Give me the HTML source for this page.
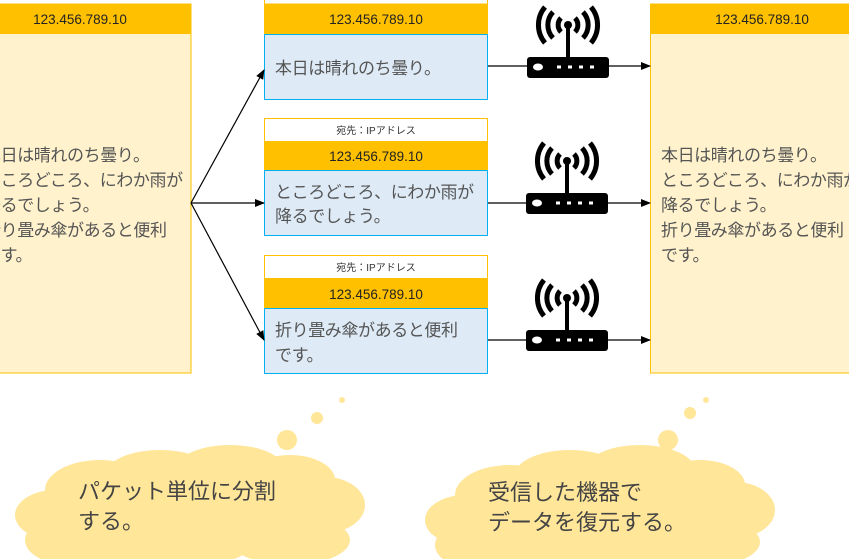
<!DOCTYPE html>
<html><head><meta charset="utf-8"><style>
body{margin:0;background:#fff;}
svg{display:block;}
text{font-family:"Liberation Sans","Noto Sans CJK JP",sans-serif;}
.ip{font-size:13.5px;fill:#222;text-anchor:middle;}
.b{font-size:17px;fill:#555;letter-spacing:-0.4px;}
.lb{font-size:10px;fill:#333;text-anchor:middle;}
.c{font-size:22px;fill:#444;}
</style></head><body>
<svg width="849" height="559" viewBox="0 0 849 559" xmlns="http://www.w3.org/2000/svg">
<defs>
<marker id="a" markerWidth="10" markerHeight="8" refX="9" refY="4" orient="auto" markerUnits="userSpaceOnUse">
<path d="M0,0 L10,4 L0,8 z" fill="#000"/></marker>
<g id="r">
<rect x="-41" y="-10" width="82" height="21" rx="3" fill="#000"/>
<ellipse cx="-30" cy="0" rx="5" ry="3.5" fill="#fff"/>
<g fill="#fff"><rect x="-11" y="-1.5" width="4" height="3"/><rect x="0" y="-1.5" width="4" height="3"/><rect x="11" y="-1.5" width="4" height="3"/><rect x="22" y="-1.5" width="4" height="3"/></g>
<rect x="-2" y="-42" width="4" height="33" fill="#000"/>
<circle cx="0" cy="-42" r="4" fill="#000"/>
<g fill="none" stroke="#000" stroke-width="5">
<path d="M-7,-49 A10,10 0 0 0 -7,-35"/><path d="M7,-49 A10,10 0 0 1 7,-35"/>
<path d="M-15,-55 A19,19 0 0 0 -15,-29"/><path d="M15,-55 A19,19 0 0 1 15,-29"/>
<path d="M-23,-60 A28,28 0 0 0 -23,-24"/><path d="M23,-60 A28,28 0 0 1 23,-24"/>
</g>
</g>
</defs>
<rect x="-5" y="4" width="196" height="369" fill="#FFF2CC" stroke="#FFC000" stroke-width="1"/>
<rect x="-5" y="4" width="196" height="30" fill="#FFC000"/>
<text class="ip" x="80" y="24">123.456.789.10</text>
<text class="b" x="-16" y="161">本日は晴れのち曇り。</text>
<text class="b" x="-16" y="186">ところどころ、にわか雨が</text>
<text class="b" x="-16" y="211">降るでしょう。</text>
<text class="b" x="-16" y="236">折り畳み傘があると便利</text>
<text class="b" x="-16" y="261">です。</text>
<rect x="650.5" y="4" width="210" height="369" fill="#FFF2CC" stroke="#FFC000" stroke-width="1"/>
<rect x="650.5" y="4" width="210" height="30" fill="#FFC000"/>
<text class="ip" x="762" y="24">123.456.789.10</text>
<text class="b" x="661" y="161">本日は晴れのち曇り。</text>
<text class="b" x="661" y="186">ところどころ、にわか雨が</text>
<text class="b" x="661" y="211">降るでしょう。</text>
<text class="b" x="661" y="236">折り畳み傘があると便利</text>
<text class="b" x="661" y="261">です。</text>
<rect x="264.5" y="-10" width="223" height="14" fill="#fff" stroke="#FFC000"/>
<rect x="264" y="4" width="224" height="30" fill="#FFC000"/>
<text class="ip" x="376" y="24">123.456.789.10</text>
<rect x="264.5" y="34.5" width="223" height="65" fill="#DEEBF7" stroke="#00B0F0"/>
<text class="b" x="275" y="74">本日は晴れのち曇り。</text>
<rect x="264.5" y="118.5" width="223" height="23" fill="#fff" stroke="#FFC000"/>
<text class="lb" x="376" y="134">宛先：IPアドレス</text>
<rect x="264" y="141" width="224" height="29" fill="#FFC000"/>
<text class="ip" x="376" y="161">123.456.789.10</text>
<rect x="264.5" y="170.5" width="223" height="65" fill="#DEEBF7" stroke="#00B0F0"/>
<text class="b" x="275" y="198">ところどころ、にわか雨が</text>
<text class="b" x="275" y="222">降るでしょう。</text>
<rect x="264.5" y="255.5" width="223" height="23" fill="#fff" stroke="#FFC000"/>
<text class="lb" x="376" y="271">宛先：IPアドレス</text>
<rect x="264" y="278" width="224" height="30" fill="#FFC000"/>
<text class="ip" x="376" y="299">123.456.789.10</text>
<rect x="264.5" y="308.5" width="223" height="65" fill="#DEEBF7" stroke="#00B0F0"/>
<text class="b" x="275" y="336">折り畳み傘があると便利</text>
<text class="b" x="275" y="361">です。</text>
<g stroke="#000" stroke-width="1.2" fill="none">
<line x1="191" y1="203" x2="264" y2="70" marker-end="url(#a)"/>
<line x1="191" y1="203" x2="264" y2="203" marker-end="url(#a)"/>
<line x1="191" y1="203" x2="264" y2="340" marker-end="url(#a)"/>
<line x1="488" y1="66" x2="650" y2="66" marker-end="url(#a)"/>
<line x1="488" y1="203" x2="650" y2="203" marker-end="url(#a)"/>
<line x1="488" y1="340" x2="650" y2="340" marker-end="url(#a)"/>
</g>
<use href="#r" x="568" y="67"/>
<use href="#r" x="567" y="203"/>
<use href="#r" x="567" y="340"/>
<g fill="#FFE699">
<ellipse cx="287" cy="440" rx="10" ry="10"/>
<ellipse cx="317" cy="418" rx="6" ry="6"/>
<ellipse cx="342" cy="400" rx="3" ry="3"/>
<ellipse cx="668" cy="440" rx="10" ry="10"/>
<ellipse cx="690" cy="413" rx="6" ry="6"/>
<ellipse cx="706" cy="400" rx="3" ry="3"/>
<ellipse cx="100" cy="490" rx="55" ry="30"/>
<ellipse cx="160" cy="475" rx="55" ry="25"/>
<ellipse cx="230" cy="470" rx="55" ry="25"/>
<ellipse cx="290" cy="480" rx="45" ry="25"/>
<ellipse cx="325" cy="505" rx="40" ry="28"/>
<ellipse cx="55" cy="515" rx="40" ry="25"/>
<ellipse cx="70" cy="540" rx="45" ry="25"/>
<ellipse cx="190" cy="510" rx="150" ry="45"/>
<ellipse cx="160" cy="545" rx="90" ry="25"/>
<ellipse cx="290" cy="540" rx="60" ry="25"/>
<ellipse cx="510" cy="495" rx="55" ry="30"/>
<ellipse cx="570" cy="475" rx="55" ry="25"/>
<ellipse cx="640" cy="470" rx="55" ry="25"/>
<ellipse cx="700" cy="485" rx="45" ry="25"/>
<ellipse cx="735" cy="510" rx="40" ry="28"/>
<ellipse cx="465" cy="520" rx="40" ry="25"/>
<ellipse cx="480" cy="545" rx="45" ry="25"/>
<ellipse cx="600" cy="515" rx="150" ry="45"/>
<ellipse cx="580" cy="548" rx="90" ry="25"/>
<ellipse cx="700" cy="542" rx="60" ry="25"/>
</g>
<text class="c" x="78" y="499">パケット単位に分割</text>
<text class="c" x="78" y="529">する。</text>
<text class="c" x="488" y="500">受信した機器で</text>
<text class="c" x="488" y="530">データを復元する。</text>
</svg>
</body></html>
